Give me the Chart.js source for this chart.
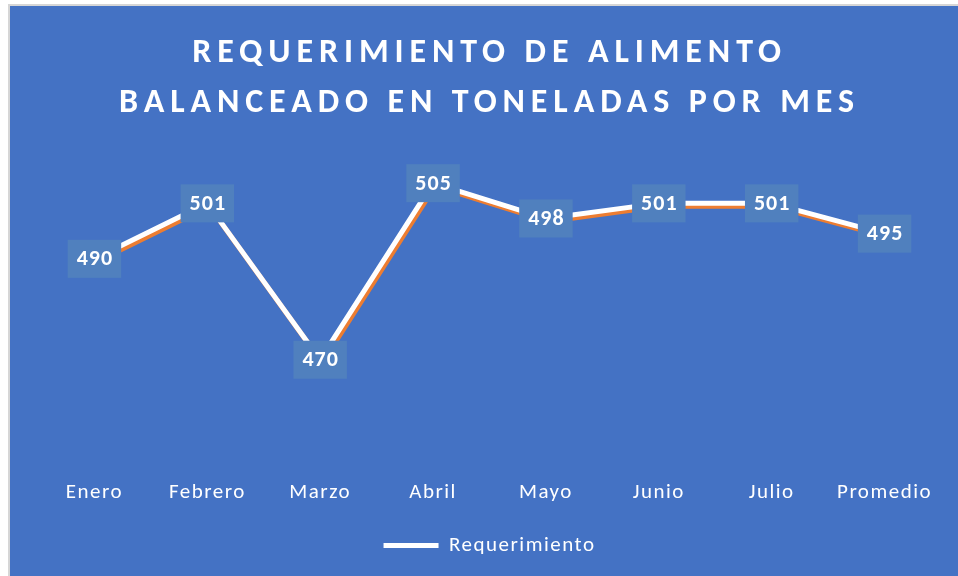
<!DOCTYPE html>
<html>
<head>
<meta charset="utf-8">
<script src="https://cdn.jsdelivr.net/npm/chart.js@4.4.1/dist/chart.umd.min.js"></script>
<style>
  html, body { margin: 0; padding: 0; background: #ffffff; }
  #marco {
    position: absolute; left: 8px; top: 4px; width: 950px; height: 572px;
    background: #4472C4; border-left: 2px solid #d6d6d6; border-top: 2px solid #d6d6d6;
  }
  #grafico { position: absolute; left: 0; top: 0; width: 950px; height: 572px; }
</style>
</head>
<body>
<div id="marco"><div id="grafico"><canvas id="lienzo"></canvas></div></div>
<script>
// Datos del gráfico
const meses = ['Enero', 'Febrero', 'Marzo', 'Abril', 'Mayo', 'Junio', 'Julio', 'Promedio'];
const requerimiento = [490, 501, 470, 505, 498, 501, 501, 495];
const tituloLineas = ['REQUERIMIENTO DE ALIMENTO', 'BALANCEADO EN TONELADAS POR MES'];
const nombreSerie = 'Requerimiento';
const ejeMin = 450;
const ejeMax = 510;

const fuente = 'Carlito, Lato, "Open Sans", sans-serif';

// Espaciado de letras general (ejes y leyenda) y del título
const espaciado = {
    id: 'espaciado',
    beforeLayout(chart) { chart.ctx.letterSpacing = '1.5px'; },
    beforeDraw(chart) { chart.ctx.letterSpacing = '1.5px'; },
    afterInit(chart) {
        const bloque = chart.titleBlock;
        const dibujar = bloque.draw;
        bloque.draw = function () {
            chart.ctx.save();
            chart.ctx.letterSpacing = '5.9px';
            dibujar.apply(this, arguments);
            chart.ctx.restore();
        };
    }
};

// Sombra naranja bajo la línea blanca
const sombraLinea = {
    id: 'sombraLinea',
    beforeDatasetsDraw(chart) {
        const ctx = chart.ctx;
        ctx.save();
        ctx.shadowColor = '#ED7D31';
        ctx.shadowOffsetX = 2;
        ctx.shadowOffsetY = 3;
        ctx.shadowBlur = 0;
    },
    afterDatasetsDraw(chart) {
        chart.ctx.restore();
    }
};

// Etiquetas de datos con recuadro
const etiquetas = {
    id: 'etiquetas',
    afterDatasetsDraw(chart) {
        const ctx = chart.ctx;
        const meta = chart.getDatasetMeta(0);
        ctx.save();
        ctx.font = 'bold 22px ' + fuente;
        ctx.letterSpacing = '1px';
        ctx.textAlign = 'center';
        ctx.textBaseline = 'middle';
        meta.data.forEach((punto, i) => {
            const texto = String(chart.data.datasets[0].data[i]);
            const ancho = ctx.measureText(texto).width + 17;
            const alto = 38;
            ctx.fillStyle = '#5080BE';
            ctx.fillRect(punto.x - ancho / 2, punto.y - alto / 2, ancho, alto);
            ctx.fillStyle = '#ffffff';
            ctx.fillText(texto, punto.x + 0.5, punto.y + 1);
        });
        ctx.restore();
    }
};

new Chart(document.getElementById('lienzo'), {
    type: 'line',
    data: {
        labels: meses,
        datasets: [{
            label: nombreSerie,
            data: requerimiento,
            borderColor: '#ffffff',
            backgroundColor: '#ffffff',
            borderWidth: 5,
            pointRadius: 0,
            tension: 0,
            borderJoinStyle: 'round',
            borderCapStyle: 'round'
        }]
    },
    options: {
        responsive: true,
        maintainAspectRatio: false,
        animation: false,
        layout: { padding: { left: 28, right: 19, top: 0, bottom: 12 } },
        plugins: {
            title: {
                display: true,
                text: tituloLineas,
                color: '#ffffff',
                font: { family: fuente, size: 34, weight: 'bold', lineHeight: 1.47 },
                padding: { top: 23, bottom: 29 }
            },
            legend: {
                position: 'bottom',
                labels: {
                    color: '#ffffff',
                    font: { family: fuente, size: 21 },
                    padding: 10,
                    boxWidth: 55,
                    boxHeight: 5,
                    useBorderRadius: true,
                    borderRadius: 2.5,
                    generateLabels(chart) {
                        return [{
                            text: nombreSerie,
                            fillStyle: '#ffffff',
                            strokeStyle: '#ffffff',
                            lineWidth: 0,
                            fontColor: '#ffffff',
                            datasetIndex: 0,
                            hidden: false
                        }];
                    }
                }
            },
            tooltip: { enabled: false }
        },
        scales: {
            x: {
                offset: true,
                grid: { display: false, drawTicks: false },
                border: { display: false },
                ticks: {
                    color: '#ffffff',
                    font: { family: fuente, size: 21, lineHeight: 2.4 },
                    padding: 7,
                    maxRotation: 0,
                    autoSkip: false
                }
            },
            y: {
                display: false,
                min: ejeMin,
                max: ejeMax
            }
        }
    },
    plugins: [espaciado, sombraLinea, etiquetas]
});
</script>
</body>
</html>
